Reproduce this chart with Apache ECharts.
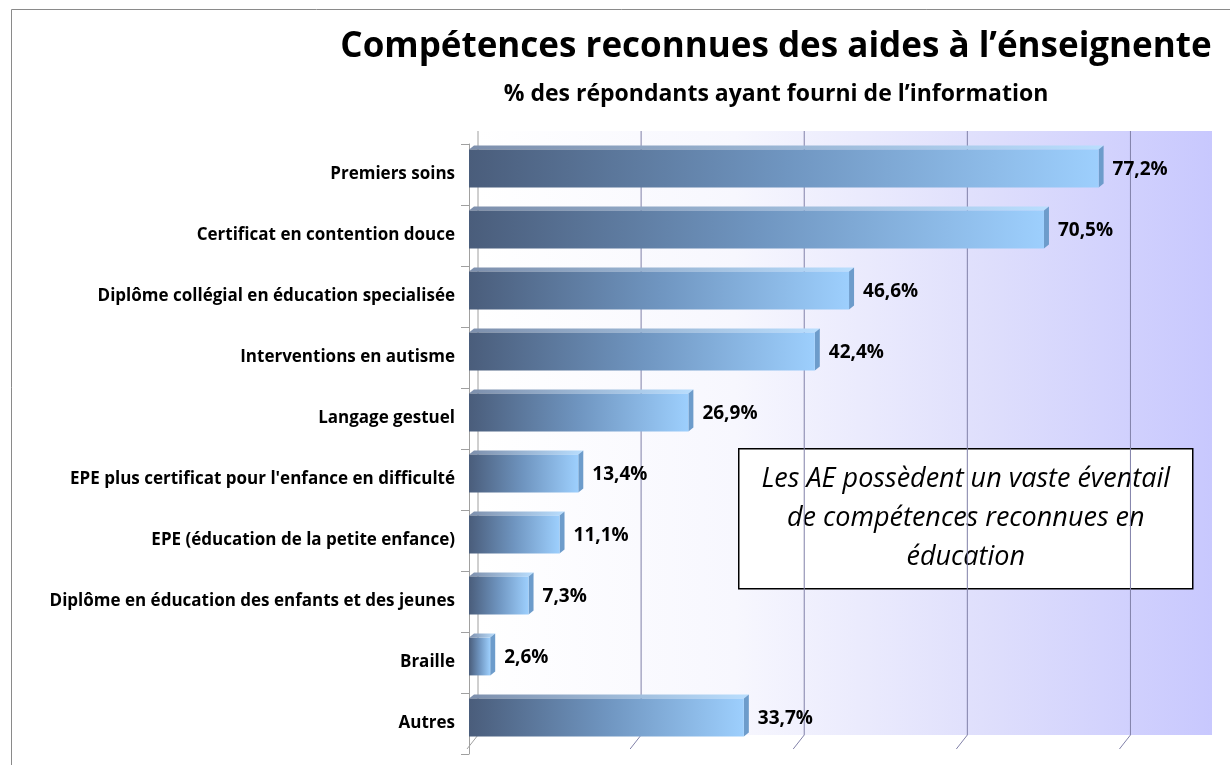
<!DOCTYPE html>
<html>
<head>
<meta charset="utf-8">
<script src="https://cdn.jsdelivr.net/npm/echarts@6/dist/echarts.min.js"></script>
<style>
  html, body { margin: 0; padding: 0; background: #fff; }
  #chart { width: 1230px; height: 765px; }
</style>
</head>
<body>
<div id="chart"></div>
<script>
  let categories = [
    "Premiers soins",
    "Certificat en contention douce",
    "Diplôme collégial en éducation specialisée",
    "Interventions en autisme",
    "Langage gestuel",
    "EPE plus certificat pour l'enfance en difficulté",
    "EPE (éducation de la petite enfance)",
    "Diplôme en éducation des enfants et des jeunes",
    "Braille",
    "Autres"
  ];
  let values = [77.2, 70.5, 46.6, 42.4, 26.9, 13.4, 11.1, 7.3, 2.6, 33.7];
  let gridTicks = [0, 20, 40, 60, 80];
  let noteLines = [
    "Les AE possèdent un vaste éventail",
    "de compétences reconnues en",
    "éducation"
  ];

  let chart = echarts.init(document.getElementById('chart'));
  let font = '"Open Sans", "DejaVu Sans", sans-serif';
  let DX = 5, DY = 4;

  function fmt(v) {
    return v.toFixed(1).replace('.', ',') + '%';
  }

  // the 3D-looking bar: front face, top face, side face, and the label
  function renderBar(params, api) {
    let v = api.value(0);
    let start = api.coord([0, api.value(1)]);
    let end = api.coord([v, api.value(1)]);
    let h = api.size([0, 1])[1] * 0.62;
    let cy = start[1] - 6;
    let x0 = start[0], x1 = end[0];
    let top = cy - h / 2, bot = cy + h / 2;
    let front = new echarts.graphic.LinearGradient(0, 0, 1, 0, [
      {offset: 0, color: '#4a5d7b'},
      {offset: 0.5, color: '#6f95c0'},
      {offset: 1, color: '#9dcffd'}
    ]);
    let topFill = new echarts.graphic.LinearGradient(0, 0, 1, 0, [
      {offset: 0, color: '#7d8fac'},
      {offset: 1, color: '#b9defe'}
    ]);
    return {
      type: 'group',
      children: [
        {type: 'polygon', shape: {points: [[x0, top], [x1, top], [x1 + DX, top - DY], [x0 + DX, top - DY]]},
          style: {fill: topFill}},
        {type: 'polygon', shape: {points: [[x1, top], [x1 + DX, top - DY], [x1 + DX, bot - DY], [x1, bot]]},
          style: {fill: '#6d9ccb'}},
        {type: 'rect', shape: {x: x0, y: top, width: x1 - x0, height: h}, style: {fill: front}},
        {type: 'text', x: x1 + DX + 9, y: cy + 1,
          style: {text: fmt(v), fill: '#000', font: 'bold 19px ' + font, verticalAlign: 'middle', textAlign: 'left'}}
      ]
    };
  }

  // back wall gridlines running down to the floor edge
  function renderWall(params, api) {
    let p = api.coord([api.value(0), 0]);
    let rect = params.coordSys;
    let yb = rect.y + rect.height;
    return {
      type: 'polyline',
      shape: {points: [[p[0], rect.y], [p[0], yb], [p[0] - 11, yb + 14]]},
      style: {stroke: p[0] <= rect.x + 1 ? '#a0a0a0' : '#8080a8', lineWidth: 1, fill: null}
    };
  }

  chart.setOption({
    animation: false,
    title: {
      text: 'Compétences reconnues des aides à l’énseignente',
      subtext: '% des répondants ayant fourni de l’information',
      left: 771,
      top: 25,
      textAlign: 'center',
      itemGap: 18,
      textStyle: {fontFamily: font, fontWeight: 'bold', fontSize: 35, color: '#000'},
      subtextStyle: {fontFamily: font, fontWeight: 'bold', fontSize: 23, color: '#000'}
    },
    grid: [{
      // back wall
      left: 478, top: 131, width: 734, height: 604,
      show: true,
      borderWidth: 0,
      backgroundColor: new echarts.graphic.LinearGradient(0, 0, 1, 0, [
        {offset: 0, color: '#ffffff'},
        {offset: 0.35, color: '#f7f7fe'},
        {offset: 0.7, color: '#dedefc'},
        {offset: 1, color: '#c8c8fe'}
      ])
    }, {
      // front plane with the bars
      left: 469, top: 144, width: 734, height: 610
    }],
    xAxis: [{
      gridIndex: 0, type: 'value', min: 0, max: 90, interval: 20,
      axisLine: {show: false}, axisTick: {show: false}, axisLabel: {show: false}, splitLine: {show: false}
    }, {
      gridIndex: 1, type: 'value', min: 0, max: 90, interval: 20,
      axisLine: {show: false}, axisTick: {show: false}, axisLabel: {show: false}, splitLine: {show: false}
    }],
    yAxis: [{
      gridIndex: 0, type: 'value', min: 0, max: 1, show: false
    }, {
      gridIndex: 1, type: 'category', inverse: true, data: categories, offset: 3,
      axisLine: {show: true, lineStyle: {color: '#a0a0a0'}},
      axisTick: {show: true, length: 8, inside: false, lineStyle: {color: '#a0a0a0'}},
      axisLabel: {color: '#000', fontFamily: font, fontWeight: 'bold', fontSize: 17, margin: 11}
    }],
    series: [{
      type: 'custom',
      xAxisIndex: 0, yAxisIndex: 0,
      renderItem: renderWall,
      data: gridTicks.map(function (t) { return [t]; }),
      silent: true,
      z: 1
    }, {
      type: 'custom',
      xAxisIndex: 1, yAxisIndex: 1,
      renderItem: renderBar,
      encode: {x: 0, y: 1},
      data: values.map(function (v, i) { return [v, i]; }),
      z: 3
    }],
    graphic: [{
      type: 'rect',
      left: 9, top: 7,
      shape: {width: 1240, height: 780},
      style: {fill: null, stroke: '#8a8a8a', lineWidth: 1},
      z: -10
    }, {
      type: 'group',
      left: 738, top: 448,
      z: 50,
      children: [{
        type: 'rect',
        shape: {x: 0, y: 0, width: 454, height: 140},
        style: {fill: '#fff', stroke: '#000', lineWidth: 1.5}
      }].concat(noteLines.map(function (t, i) {
        return {
          type: 'text', x: 227, y: 31 + i * 39,
          style: {text: t, fill: '#000', font: 'italic 27px ' + font, textAlign: 'center', verticalAlign: 'middle'}
        };
      }))
    }]
  });
</script>
</body>
</html>
